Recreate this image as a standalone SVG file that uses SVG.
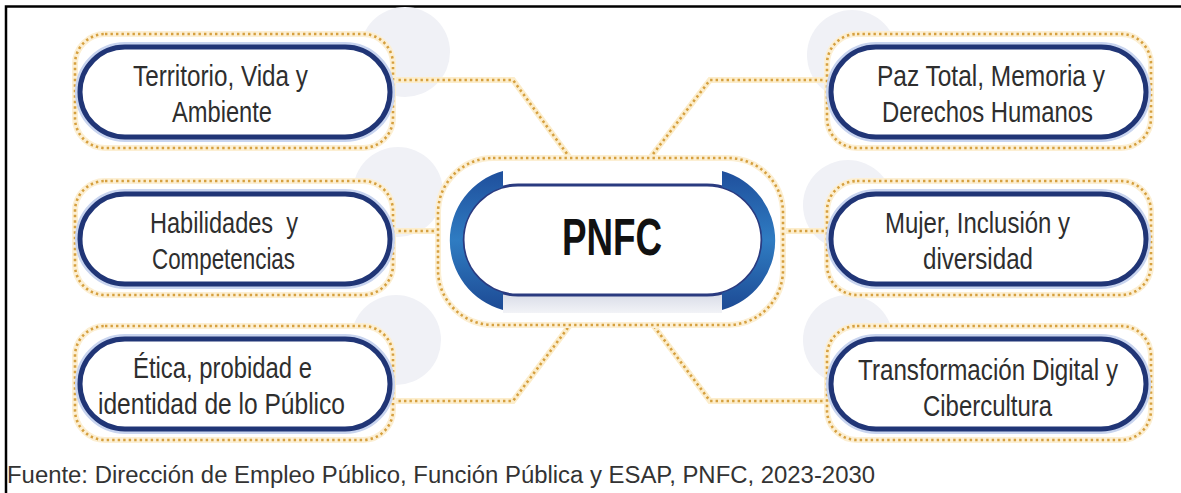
<svg xmlns="http://www.w3.org/2000/svg" width="1181" height="493" viewBox="0 0 1181 493">
<defs>
<style>
.disc{fill:#f0f1f6}
.halo{fill:#fff;stroke:#fcefd3;stroke-width:6}
.dots{fill:none;stroke:#d6a03f;stroke-width:2.6;stroke-dasharray:2.4 3.1}
.glow{fill:none;stroke:#c8d4ef;stroke-width:10}
.pill{fill:#fff;stroke:#203576;stroke-width:5}
.lbl{font-family:"Liberation Sans",Arial,sans-serif;font-size:29px;fill:#2e2e2e;text-anchor:middle}
.cbg{fill:none;stroke:#fcedcb;stroke-width:6}
.conn{fill:none;stroke:#d6a03f;stroke-width:2.6;stroke-dasharray:2.4 3.1}
</style>
<linearGradient id="capg" x1="0" y1="0" x2="0" y2="1">
<stop offset="0" stop-color="#1f4f9c"/>
<stop offset="0.5" stop-color="#2f7cc2"/>
<stop offset="1" stop-color="#1d4a94"/>
</linearGradient>
<linearGradient id="shd" x1="0" y1="0" x2="0" y2="1">
<stop offset="0" stop-color="#d6dae6"/>
<stop offset="1" stop-color="#f2f3f7"/>
</linearGradient>
</defs>
<rect width="1181" height="493" fill="#fff"/>
<g id="frame" fill="none" stroke="#000" stroke-width="2.5">
<path d="M1181,6.5 H6 V493"/>
</g>
<g id="decor">
<circle class="disc" cx="405" cy="52" r="45"/>
<circle class="disc" cx="398" cy="192" r="45"/>
<circle class="disc" cx="396" cy="340" r="45"/>
<circle class="disc" cx="852" cy="55" r="45"/>
<circle class="disc" cx="848" cy="205" r="45"/>
<circle class="disc" cx="848" cy="340" r="45"/>
</g>
<g id="connectors">
<path class="cbg" d="M393,80 H513 L570,158"/>
<path class="conn" d="M393,80 H513 L570,158"/>
<path class="cbg" d="M828,80 H710 L650,158"/>
<path class="conn" d="M828,80 H710 L650,158"/>
<path class="cbg" d="M393,231 H438"/>
<path class="conn" d="M393,231 H438"/>
<path class="cbg" d="M783,231 H828"/>
<path class="conn" d="M783,231 H828"/>
<path class="cbg" d="M393,401 H513 L570,325"/>
<path class="conn" d="M393,401 H513 L570,325"/>
<path class="cbg" d="M828,401 H710 L653,325"/>
<path class="conn" d="M828,401 H710 L653,325"/>
</g>
<g id="n-territorio">
<rect class="halo" x="75" y="34" width="318" height="114" rx="30"/>
<rect class="dots" x="75" y="34" width="318" height="114" rx="30"/>
<rect class="glow" x="80" y="47" width="310" height="90" rx="45"/>
<rect class="pill" x="80" y="47" width="310" height="90" rx="45"/>
<text class="lbl" x="220.5" y="86" textLength="175" lengthAdjust="spacingAndGlyphs">Territorio, Vida y</text>
<text class="lbl" x="222" y="122" textLength="100" lengthAdjust="spacingAndGlyphs">Ambiente</text>
</g>
<g id="n-habilidades">
<rect class="halo" x="75" y="181" width="318" height="114" rx="30"/>
<rect class="dots" x="75" y="181" width="318" height="114" rx="30"/>
<rect class="glow" x="80" y="194" width="310" height="90" rx="45"/>
<rect class="pill" x="80" y="194" width="310" height="90" rx="45"/>
<text class="lbl" x="224" y="233" textLength="148" lengthAdjust="spacingAndGlyphs" style="white-space:pre">Habilidades  y</text>
<text class="lbl" x="223.5" y="269" textLength="143" lengthAdjust="spacingAndGlyphs">Competencias</text>
</g>
<g id="n-etica">
<rect class="halo" x="75" y="326" width="318" height="114" rx="30"/>
<rect class="dots" x="75" y="326" width="318" height="114" rx="30"/>
<rect class="glow" x="80" y="339" width="310" height="90" rx="45"/>
<rect class="pill" x="80" y="339" width="310" height="90" rx="45"/>
<text class="lbl" x="222.5" y="378" textLength="179" lengthAdjust="spacingAndGlyphs">Ética, probidad e</text>
<text class="lbl" x="221.5" y="414" textLength="247" lengthAdjust="spacingAndGlyphs">identidad de lo Público</text>
</g>
<g id="n-paz">
<rect class="halo" x="827" y="34" width="324" height="114" rx="30"/>
<rect class="dots" x="827" y="34" width="324" height="114" rx="30"/>
<rect class="glow" x="831" y="47" width="315" height="90" rx="45"/>
<rect class="pill" x="831" y="47" width="315" height="90" rx="45"/>
<text class="lbl" x="991" y="86" textLength="228" lengthAdjust="spacingAndGlyphs">Paz Total, Memoria y</text>
<text class="lbl" x="987.5" y="122" textLength="211" lengthAdjust="spacingAndGlyphs">Derechos Humanos</text>
</g>
<g id="n-mujer">
<rect class="halo" x="827" y="181" width="324" height="114" rx="30"/>
<rect class="dots" x="827" y="181" width="324" height="114" rx="30"/>
<rect class="glow" x="831" y="194" width="315" height="90" rx="45"/>
<rect class="pill" x="831" y="194" width="315" height="90" rx="45"/>
<text class="lbl" x="977.5" y="233" textLength="185" lengthAdjust="spacingAndGlyphs">Mujer, Inclusión y</text>
<text class="lbl" x="978" y="269" textLength="110" lengthAdjust="spacingAndGlyphs">diversidad</text>
</g>
<g id="n-transformacion">
<rect class="halo" x="827" y="326" width="324" height="114" rx="30"/>
<rect class="dots" x="827" y="326" width="324" height="114" rx="30"/>
<rect class="glow" x="831" y="339" width="315" height="90" rx="45"/>
<rect class="pill" x="831" y="339" width="315" height="90" rx="45"/>
<text class="lbl" x="988" y="380" textLength="260" lengthAdjust="spacingAndGlyphs">Transformación Digital y</text>
<text class="lbl" x="987.5" y="416" textLength="129" lengthAdjust="spacingAndGlyphs">Cibercultura</text>
</g>
<g id="n-pnfc">
<rect class="halo" x="438" y="158" width="345" height="167" rx="55"/>
<rect class="dots" x="438" y="158" width="345" height="167" rx="55"/>
<path d="M503,292 H722 V313 H503 Z" fill="url(#shd)"/>
<rect x="463" y="185" width="299" height="110" rx="55" fill="#fff" stroke="#2a3b80" stroke-width="3"/>
<path d="M503,171 A72,72 0 0 0 503,310 L503,293 A55,55 0 0 1 503,187 Z" fill="url(#capg)"/>
<path d="M722,171 A72,72 0 0 1 722,310 L722,293 A55,55 0 0 0 722,187 Z" fill="url(#capg)"/>
<text x="612" y="255" font-family="'Liberation Sans',Arial,sans-serif" font-size="51" font-weight="bold" fill="#111" text-anchor="middle" textLength="100" lengthAdjust="spacingAndGlyphs">PNFC</text>
</g>
<g id="caption">
<text x="7" y="483" font-family="'Liberation Sans',Arial,sans-serif" font-size="23.5" fill="#333" textLength="868" lengthAdjust="spacingAndGlyphs">Fuente: Dirección de Empleo Público, Función Pública y ESAP, PNFC, 2023-2030</text>
</g>
</svg>
